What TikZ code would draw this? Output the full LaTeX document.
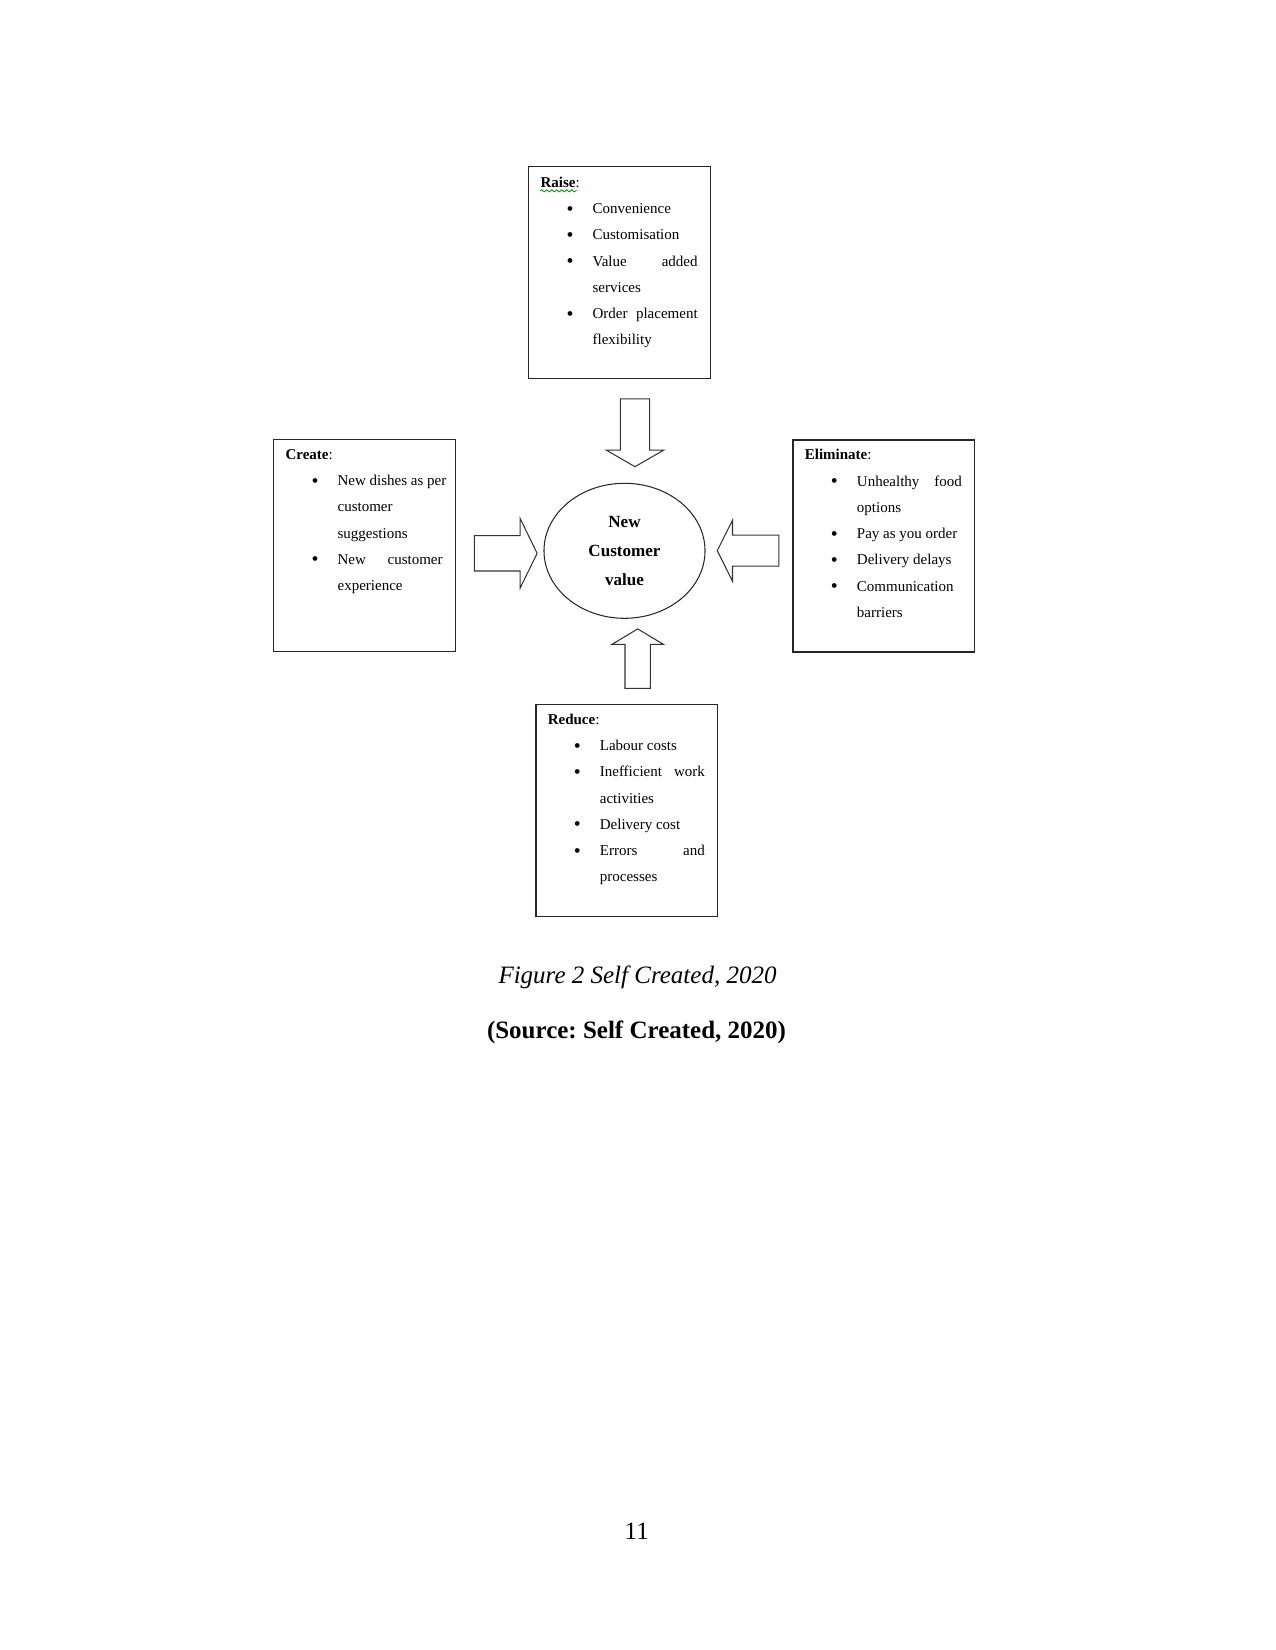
\documentclass[tikz,border=0pt]{standalone}
\usepackage{fontspec}
\setmainfont{Liberation Serif}
\usepackage{tikz}
\usetikzlibrary{shapes.geometric, shapes.arrows, calc, decorations.pathmorphing}

\frenchspacing
\newcommand{\boxfont}{\fontsize{7.2pt}{12.6pt}\selectfont}
\newcommand{\hubfont}{\fontsize{8.2pt}{14pt}\selectfont\bfseries}
\newcommand{\capfont}{\fontsize{12pt}{14pt}\selectfont}
\newcommand{\panelhead}[1]{\noindent\textbf{#1}:\par}
\newcommand{\bigdot}{\raisebox{-0.7pt}{\fontsize{9.5pt}{9.5pt}\selectfont\textbullet}}
\newcommand{\bitem}[1]{\par\noindent\hangindent=25pt\hangafter=0
  \llap{\bigdot\hspace{9.2pt}}#1\par}

\begin{document}
\begin{tikzpicture}[
  x=0.48pt, y=-0.48pt,
  panel/.style={draw=black!85, line width=0.6pt, minimum width=87.1pt,
                minimum height=101.8pt, inner sep=0pt},
  paneltext/.style={anchor=base west, text width=75.4pt, align=justify,
                    inner sep=0pt, font=\boxfont},
  hub/.style={ellipse, draw=black!85, line width=0.5pt, minimum width=77.3pt,
              minimum height=64.8pt, inner sep=0pt, align=center, font=\hubfont},
  blockarr/.style={single arrow, draw=black!80, line width=0.5pt, anchor=tip,
                   minimum width=0pt, single arrow head indent=0pt},
]
  \useasboundingbox (0,0) rectangle (1275,1650);

  % ── Four panels ──
  \node[panel] (raise)  at (619.5, 272.5) {};
  \node[panel] (create) at (364.5, 545.5) {};
  \node[panel] (elim)   at (883.8, 546.0) {};
  \node[panel] (reduce) at (626.7, 810.5) {};

  \node[paneltext] (raisetxt) at ($(raise.north west)+(12,21.5)$) {%
    \panelhead{Raise}
    \bitem{Convenience}
    \bitem{Customisation}
    \bitem{Value added\linebreak services}
    \bitem{Order placement\linebreak flexibility}};

  \node[paneltext] (createtxt) at ($(create.north west)+(12,20.5)$) {%
    \panelhead{Create}
    \bitem{\mbox{New dishes as per}\\ customer\\ suggestions}
    \bitem{New customer\linebreak experience}};

  \node[paneltext] (elimtxt) at ($(elim.north west)+(12,20.5)$) {%
    \panelhead{Eliminate}
    \bitem{Unhealthy food\linebreak options}
    \bitem{Pay as you order}
    \bitem{Delivery delays}
    \bitem{Communication\\ barriers}};

  \node[paneltext] (reducetxt) at ($(reduce.north west)+(12,20.5)$) {%
    \panelhead{Reduce}
    \bitem{Labour costs}
    \bitem{Inefficient work\linebreak activities}
    \bitem{Delivery cost}
    \bitem{Errors and\linebreak processes}};

  % spell-check squiggle under "Raise"
  \draw[green!60!black, line width=0.4pt,
        decorate, decoration={snake, amplitude=0.5pt, segment length=2.4pt}]
    ($(raisetxt.base west)+(0,3.5)$) -- ++(37,0);

  % ── Centre ──
  \node[hub] (value) at (624.5, 550.8) {New\\Customer\\value};

  % ── Block arrows ──
  \node[blockarr, shape border rotate=270, minimum height=32.6pt, inner sep=6.8pt,
        single arrow head extend=6.8pt, single arrow tip angle=120]
    (fromraise) at (635, 467.3) {};
  \node[blockarr, shape border rotate=90, minimum height=28.5pt, inner sep=5.85pt,
        single arrow head extend=6.2pt, single arrow tip angle=118]
    (fromreduce) at (637.7, 628.3) {};
  \node[blockarr, shape border rotate=0, minimum height=30.1pt, inner sep=8.25pt,
        single arrow head extend=8.2pt, single arrow tip angle=128]
    (fromcreate) at (537.7, 553.3) {};
  \node[blockarr, shape border rotate=180, minimum height=29.6pt, inner sep=7.2pt,
        single arrow head extend=7.2pt, single arrow tip angle=127]
    (fromelim) at (716.7, 550.7) {};

  % ── Caption ──
  \node[anchor=base, font=\capfont\itshape] (figcap) at (637.5, 983)
    {Figure 2 Self Created, 2020};
  \node[anchor=base, font=\capfont\bfseries] (source) at (636.5, 1038)
    {(Source: Self Created, 2020)};
  \node[anchor=base, font=\capfont] (pageno) at (636.7, 1539) {11};
\end{tikzpicture}
\end{document}
